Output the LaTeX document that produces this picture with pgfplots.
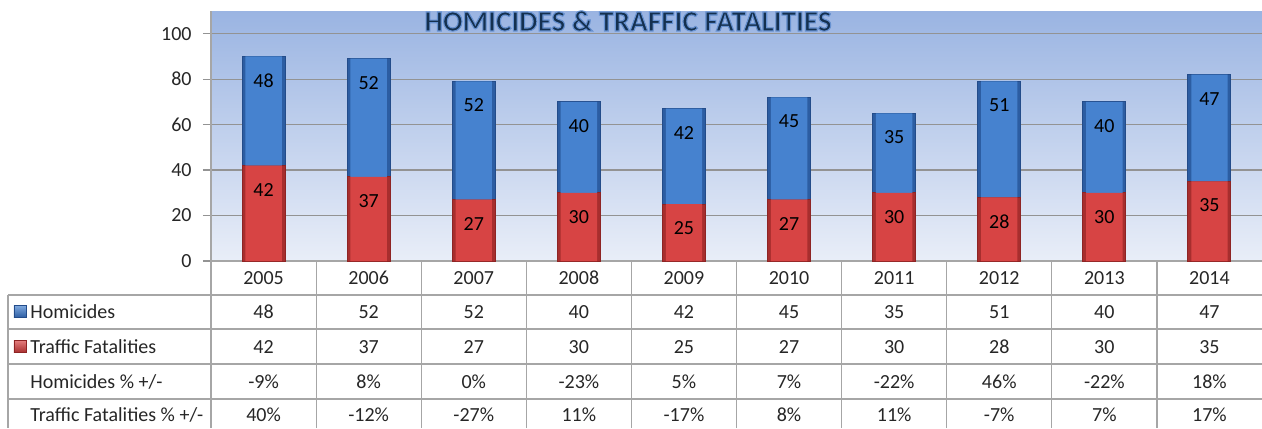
\documentclass[border=0pt]{standalone}
\usepackage{fontspec}
\setmainfont{Carlito}
\usepackage{pgfplots}
\usepackage{pgfplotstable}
\pgfplotsset{compat=1.18}
\definecolor{bgtop}{HTML}{9AB4E2}
\definecolor{bgbot}{HTML}{E9EEF8}
\definecolor{bluemid}{HTML}{4682CF}
\definecolor{blueedge}{HTML}{2C5DA2}
\definecolor{blueline}{HTML}{234C8A}
\definecolor{redmid}{HTML}{D74444}
\definecolor{rededge}{HTML}{A72E2E}
\definecolor{redline}{HTML}{8E2424}
\definecolor{titlecol}{HTML}{14304F}
\definecolor{txt}{HTML}{262626}
\definecolor{tbl}{HTML}{A6A6A6}
\newcommand\colw{52.55pt}
\pgfplotstableread{
x tf hom
0 42 48
1 37 52
2 27 52
3 30 40
4 25 42
5 27 45
6 30 35
7 28 51
8 30 40
9 35 47
}\data
\pgfplotsset{base/.style={
  at={(0,0)}, anchor=south west,
  scale only axis, width=525.5pt, height=125pt,
  xmin=-0.5, xmax=9.5, ymin=0, ymax=110,
  ybar stacked,
  /pgf/number format/assume math mode=true}}
\begin{document}
\begin{tikzpicture}[font=\fontsize{10}{12}\selectfont]
\useasboundingbox (-105.5pt,-83.5pt) rectangle (525.5pt,130.5pt);
\begin{axis}[base, bar width=21.5pt,
  xtick=\empty,
  ytick={0,20,40,60,80,100},
  ymajorgrids,
  grid style={draw=gray!85, line width=0.6pt},
  separate axis lines,
  axis x line*=bottom, axis y line*=left,
  axis line style={draw=tbl, line width=0.6pt, -},
  tick align=outside, major tick length=4pt,
  ytick style={draw=gray!85, line width=0.6pt},
  yticklabel style={font=\fontsize{10}{12}\selectfont, text=txt, inner sep=0pt, xshift=-5.5pt},
  axis background/.style={top color=bgtop, bottom color=bgbot},
]
\addplot[fill=rededge, draw=redline, line width=0.5pt] table[x=x, y=tf] {\data};
\addplot[fill=blueedge, draw=blueline, line width=0.5pt] table[x=x, y=hom] {\data};
\end{axis}
\begin{axis}[base, bar width=18.2pt, hide axis,
  point meta=explicit,
  visualization depends on=rawy \as \segv,
  nodes near coords,
  every node near coord/.append style={anchor=center, yshift={\segv*0.56818pt-12pt}, font=\fontsize{10}{12}\selectfont, text=black},
]
\addplot[fill=redmid, draw=none] table[x=x, y=tf, meta=tf] {\data};
\addplot[fill=bluemid, draw=none] table[x=x, y=hom, meta=hom] {\data};
\end{axis}
% title
\node[font=\fontsize{14.6}{16}\selectfont\bfseries, text=titlecol] at (208.5pt,120pt)
  {\special{pdf:literal direct 2 Tr 0.55 w 0.40 0.57 0.82 RG}HOMICIDES \& TRAFFIC FATALITIES\special{pdf:literal direct 0 Tr}};
% table grid
\draw[tbl, line width=0.6pt] (-101.5pt,-17pt) -- (525.5pt,-17pt)
  (-101.5pt,-34pt) -- (525.5pt,-34pt)
  (-101.5pt,-51.5pt) -- (525.5pt,-51.5pt)
  (-101.5pt,-69pt) -- (525.5pt,-69pt)
  (-101.5pt,-17pt) -- (-101.5pt,-83.5pt);
\foreach \k in {0,...,9}{
  \draw[tbl, line width=0.6pt] (\k*\colw,0) -- (\k*\colw,-83.5pt);
}
% row labels
\node[anchor=base west, text=txt, inner sep=0pt] at (-90.5pt,-28.5pt) {Homicides};
\node[anchor=base west, text=txt, inner sep=0pt] at (-90.5pt,-46pt) {Traffic Fatalities};
\node[anchor=base west, text=txt, inner sep=0pt] at (-90.5pt,-63.5pt) {Homicides \% +/-};
\node[anchor=base west, text=txt, inner sep=0pt] at (-90.5pt,-80.2pt) {Traffic Fatalities \% +/-};
% legend keys
\shade[top color=bluemid!70!white, bottom color=blueedge, draw=blueline, line width=0.3pt]
  (-98.5pt,-28.3pt) rectangle (-92.5pt,-22.3pt);
\shade[top color=redmid!70!white, bottom color=rededge, draw=redline, line width=0.3pt]
  (-98.5pt,-45.8pt) rectangle (-92.5pt,-39.8pt);
% table values
\foreach \v [count=\i from 0] in {2005,2006,2007,2008,2009,2010,2011,2012,2013,2014}{
  \node[anchor=base, text=txt, inner sep=0pt] at ({(\i+0.5)*\colw},-11.7pt) {\v};
}
\foreach \v [count=\i from 0] in {48,52,52,40,42,45,35,51,40,47}{
  \node[anchor=base, text=txt, inner sep=0pt] at ({(\i+0.5)*\colw},-28.5pt) {\v};
}
\foreach \v [count=\i from 0] in {42,37,27,30,25,27,30,28,30,35}{
  \node[anchor=base, text=txt, inner sep=0pt] at ({(\i+0.5)*\colw},-46pt) {\v};
}
\foreach \v [count=\i from 0] in {-9,8,0,-23,5,7,-22,46,-22,18}{
  \node[anchor=base, text=txt, inner sep=0pt] at ({(\i+0.5)*\colw},-63.5pt) {\v\%};
}
\foreach \v [count=\i from 0] in {40,-12,-27,11,-17,8,11,-7,7,17}{
  \node[anchor=base, text=txt, inner sep=0pt] at ({(\i+0.5)*\colw},-80.2pt) {\v\%};
}
\end{tikzpicture}
\end{document}
